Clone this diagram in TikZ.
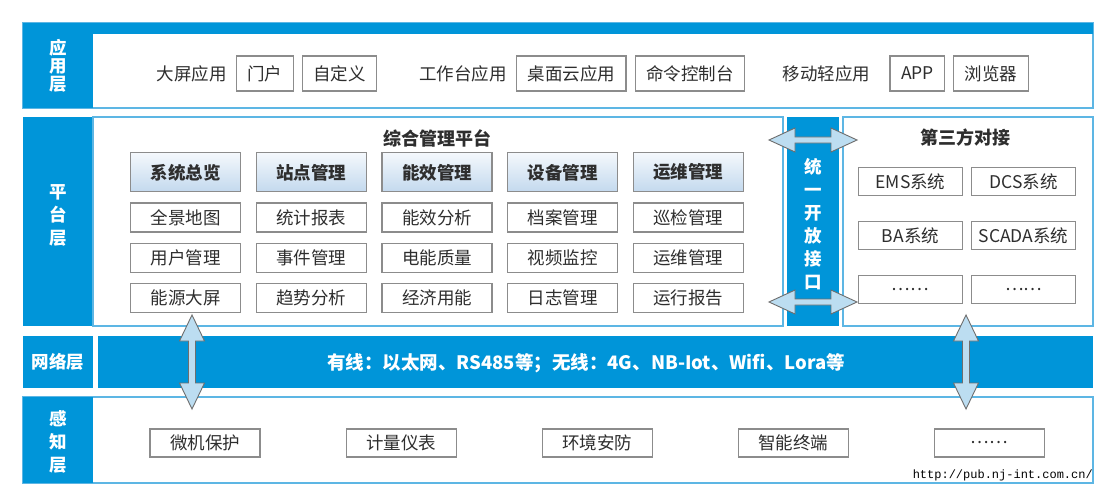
\documentclass[tikz,border=0pt]{standalone}
\usepackage{fontspec}
\setmainfont{Noto Sans CJK SC}
\newfontfamily\urlfont{Liberation Mono}
\usetikzlibrary{positioning}
\definecolor{layerblue}{HTML}{0095D9}
\definecolor{rimblue}{HTML}{5DB6E4}
\definecolor{boxgray}{HTML}{8C8C8C}
\definecolor{inkgray}{HTML}{2E2E2E}
\definecolor{hdtop}{HTML}{F4F8FC}
\definecolor{hdbot}{HTML}{C3D9EE}
\definecolor{shaftblue}{HTML}{BCDDF1}
\definecolor{arrowgray}{HTML}{6E6E6E}

\begin{document}
\begin{tikzpicture}[x=1pt,y=-1pt,
			every node/.style={text=inkgray,font=\fontsize{17.5pt}{20pt}\selectfont},
			word/.style={inner sep=0pt},
			appbox/.style={draw=boxgray,line width=1.1pt,inner xsep=11pt,inner ysep=0pt,minimum height=35pt},
			box/.style={draw=boxgray,line width=1.1pt,fill=white,inner sep=0pt,minimum width=110pt,minimum height=29pt},
			hbox/.style={box,minimum height=39pt,top color=hdtop,bottom color=hdbot,font=\fontsize{17.5pt}{20pt}\selectfont\bfseries},
			tbox/.style={box,minimum width=104pt,minimum height=28pt},
			sbox/.style={box,minimum height=28pt},
			layer/.style={text=white,align=center,font=\fontsize{17.5pt}{23pt}\selectfont\bfseries},
			rim/.style={draw=rimblue,line width=1.1pt},
			fat/.style={draw=arrowgray,fill=shaftblue,line width=0.9pt,line join=miter}]
			\useasboundingbox (0,0) rectangle (1105,500);
			\fill[white] (0,0) rectangle (1105,500);
			\draw[rim] (23,23) rectangle (1093,108);
			\fill[layerblue] (23,23) rectangle (1093,34);
			\fill[layerblue] (23,23) rectangle (93,108);
			\fill[layerblue] (23,117) rectangle (93,326);
			\draw[rim] (93,117) rectangle (783,326);
			\fill[layerblue] (787,117) rectangle (839,326);
			\draw[rim] (843,117) rectangle (1093,326);
			\fill[layerblue] (23,336) rectangle (93,388);
			\fill[layerblue] (98,336) rectangle (1093,388);
			\draw[rim] (23,397) rectangle (1093,483);
			\fill[layerblue] (23,397) rectangle (93,483);

			\node (lapp) [layer,font=\fontsize{17.5pt}{18pt}\selectfont\bfseries] at (58,65.5) {应\\用\\层};
			\node (lplat) [layer] at (58,215) {平\\台\\层};
			\node (lnet) [layer] at (58,362) {网络层};
			\node (lsense) [layer] at (58,441.5) {感\\知\\层};

			\node (bigscr) [word] at (191.5,73.5) {大屏应用};
			\node (portal) [appbox,right=9pt of bigscr] {门户};
			\node (custom) [appbox,right=8pt of portal] {自定义};
			\node (desk) [word] at (463,73.5) {工作台应用};
			\node (cloud) [appbox,right=9pt of desk] {桌面云应用};
			\node (cmd) [appbox,right=8pt of cloud] {命令控制台};
			\node (mobile) [word] at (826.5,73.5) {移动轻应用};
			\node (appx) [appbox,right=19pt of mobile] {APP};
			\node (browser) [appbox,right=8pt of appx] {浏览器};

			\node (platttl) [font=\fontsize{18pt}{20pt}\selectfont\bfseries] at (437,138) {综合管理平台};
			\matrix (modmat) [row sep=10pt,column sep=14.5pt] at (437,232.5) {
				\node (ovw) [hbox] {系统总览}; &
				\node (site) [hbox] {站点管理}; &
				\node (eff) [hbox] {能效管理}; &
				\node (dev) [hbox] {设备管理}; &
				\node (ops) [hbox] {运维管理}; \\
				\node (gis) [box] {全景地图}; &
				\node (stat) [box] {统计报表}; &
				\node (effan) [box] {能效分析}; &
				\node (arch) [box] {档案管理}; &
				\node (patrol) [box] {巡检管理}; \\
				\node (user) [box] {用户管理}; &
				\node (event) [box] {事件管理}; &
				\node (pq) [box] {电能质量}; &
				\node (video) [box] {视频监控}; &
				\node (opsm) [box] {运维管理}; \\
				\node (bigs) [box] {能源大屏}; &
				\node (trend) [box] {趋势分析}; &
				\node (econ) [box] {经济用能}; &
				\node (log) [box] {日志管理}; &
				\node (report) [box] {运行报告}; \\
			};

			\node (api) [layer,font=\fontsize{17.5pt}{23pt}\selectfont\bfseries] at (813,224.5) {统\\一\\开\\放\\接\\口};

			\node (thirdttl) [font=\fontsize{18pt}{20pt}\selectfont\bfseries] at (965,138) {第三方对接};
			\matrix (thirdmat) [row sep=24.5pt,column sep=8pt] at (967,235.5) {
				\node (ems) [tbox] {EMS系统}; &
				\node (dcs) [tbox] {DCS系统}; \\
				\node (ba) [tbox] {BA系统}; &
				\node (scada) [tbox] {SCADA系统}; \\
				\node (more1) [tbox] {……}; &
				\node (more2) [tbox] {……}; \\
			};

			\node (nettxt) [text=white,font=\fontsize{18.5pt}{20pt}\selectfont\bfseries] at (586,363) {有线：以太网、RS485等；无线：4G、NB-Iot、Wifi、Lora等};

			\node (relay) [sbox] at (205,443) {微机保护};
			\node (meter) [sbox,right=85pt of relay] {计量仪表};
			\node (envir) [sbox,right=85pt of meter] {环境安防};
			\node (term) [sbox,right=85pt of envir] {智能终端};
			\node (more3) [sbox,right=85pt of term] {……};
			\node (url) [anchor=east,inner sep=0pt,text=black,font=\urlfont\fontsize{12pt}{14pt}\selectfont] at (1093,475) {http://pub.nj-int.com.cn/};

			\coordinate (upL) at (192,315);
			\coordinate (upR) at (966,315);
			\coordinate (hzT) at (769,140);
			\coordinate (hzB) at (769,302);
			\draw[fat] (upL) -- ++(12.5,26) -- ++(-9,0) -- ++(0,42) -- ++(9,0) -- ++(-12.5,26) -- ++(-12.5,-26) -- ++(9,0) -- ++(0,-42) -- ++(-9,0) -- cycle;
			\draw[fat] (upR) -- ++(12.5,26) -- ++(-9,0) -- ++(0,42) -- ++(9,0) -- ++(-12.5,26) -- ++(-12.5,-26) -- ++(9,0) -- ++(0,-42) -- ++(-9,0) -- cycle;
			\draw[fat] (hzT) -- ++(26,-12) -- ++(0,9) -- ++(36,0) -- ++(0,-9) -- ++(26,12) -- ++(-26,12) -- ++(0,-9) -- ++(-36,0) -- ++(0,9) -- cycle;
			\draw[fat] (hzB) -- ++(26,-12) -- ++(0,9) -- ++(36,0) -- ++(0,-9) -- ++(26,12) -- ++(-26,12) -- ++(0,-9) -- ++(-36,0) -- ++(0,9) -- cycle;
		\end{tikzpicture}
\end{document}
